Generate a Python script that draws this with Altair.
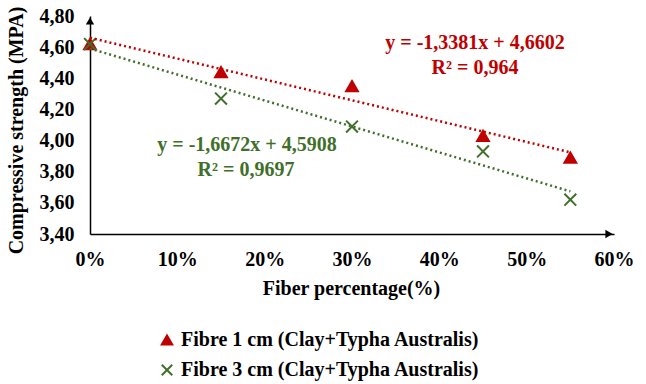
import altair as alt
import pandas as pd

# Fibre content (fraction) and measured compressive strength (MPa)
fiber_pct = [0.0, 0.15, 0.30, 0.45, 0.55]
strength_1cm = [4.62, 4.44, 4.35, 4.03, 3.89]
strength_3cm = [4.62, 4.27, 4.09, 3.93, 3.62]

series_names = ["Fibre 1 cm  (Clay+Typha Australis)", "Fibre 3 cm (Clay+Typha Australis)"]
series_colors = ["#C00000", "#3F6F2A"]
series_shapes = ["triangle-up", "M-1,-1L1,1M-1,1L1,-1"]

# Linear trend coefficients and fit quality
slopes = [-1.3381, -1.6672]
intercepts = [4.6602, 4.5908]
r_squared = ["0,964", "0,9697"]

x_ticks = [0, 0.1, 0.2, 0.3, 0.4, 0.5, 0.6]
y_ticks = [3.4, 3.6, 3.8, 4.0, 4.2, 4.4, 4.6, 4.8]

FONT = "Liberation Serif"
FS = 20

points = pd.DataFrame(
    {
        "fiber": fiber_pct * 2,
        "strength": strength_1cm + strength_3cm,
        "series": [series_names[0]] * 5 + [series_names[1]] * 5,
    }
)

trend_rows = []
for name, a, b in zip(series_names, slopes, intercepts):
    for x in (fiber_pct[0], fiber_pct[-1]):
        trend_rows.append({"fiber": x, "strength": a * x + b, "series": name})
trend = pd.DataFrame(trend_rows)


def comma(v, digits):
    return f"{v:.{digits}f}".replace(".", ",")


eq_text = [f"y = {comma(a, 4)}x + {comma(b, 4)}" for a, b in zip(slopes, intercepts)]

x_scale = alt.Scale(domain=[x_ticks[0], x_ticks[-1]], nice=False)
y_scale = alt.Scale(domain=[y_ticks[0], y_ticks[-1]], nice=False, zero=False)

x_axis = alt.Axis(
    values=x_ticks,
    labelExpr="format(datum.value, '.0%')",
    labelFlush=False,
    labelOverlap=False,
    title="Fiber percentage(%)",
    titleX=261,
    titleY=54,
    titleBaseline="middle",
    labelPadding=15,
)
y_axis = alt.Axis(
    values=y_ticks,
    labelExpr="replace(format(datum.value, '.2f'), '.', ',')",
    labelFlush=False,
    labelOverlap=False,
    title="Compressive strength (MPA)",
    titleX=-74,
    titleY=114,
    titleAngle=-90,
    titleAlign="center",
    titleBaseline="middle",
    labelPadding=16,
)


def X():
    return alt.X("fiber:Q", scale=x_scale, axis=x_axis)


def Y():
    return alt.Y("strength:Q", scale=y_scale, axis=y_axis)


legend = alt.Legend(
    title=None,
    orient="none",
    legendX=67,
    legendY=314,
    direction="vertical",
    labelFont=FONT,
    labelFontWeight="bold",
    labelFontSize=FS,
    labelColor="black",
    symbolSize=110,
    symbolStrokeWidth=2,
    rowPadding=10,
    labelOffset=4,
    labelLimit=400,
)

color_scale = alt.Scale(domain=series_names, range=series_colors)
shape_scale = alt.Scale(domain=series_names, range=series_shapes)

markers = (
    alt.Chart(points)
    .mark_point(filled=True, size=140, strokeWidth=2, opacity=1)
    .encode(
        x=X(),
        y=Y(),
        fill=alt.Fill("series:N", scale=color_scale, legend=legend),
        stroke=alt.Stroke("series:N", scale=color_scale, legend=legend),
        shape=alt.Shape("series:N", scale=shape_scale, legend=legend),
    )
)

trend_lines = (
    alt.Chart(trend)
    .mark_line(strokeDash=[2, 3], strokeWidth=2.5)
    .encode(
        x=X(),
        y=Y(),
        color=alt.Color("series:N", scale=color_scale, legend=None),
    )
)

# Arrowheads at the ends of both axes
y_arrow = (
    alt.Chart(pd.DataFrame({"fiber": [x_ticks[0]], "strength": [y_ticks[-1]]}))
    .mark_point(shape="triangle-up", filled=True, color="black", size=70, yOffset=5, opacity=1)
    .encode(x=X(), y=Y())
)
x_arrow = (
    alt.Chart(pd.DataFrame({"fiber": [x_ticks[-1]], "strength": [y_ticks[0]]}))
    .mark_point(shape="triangle-right", filled=True, color="black", size=70, xOffset=-5, opacity=1)
    .encode(x=X(), y=Y())
)


def label(text, color, px, py):
    return (
        alt.Chart(pd.DataFrame({"t": [text]}))
        .mark_text(font=FONT, fontWeight="bold", fontSize=FS, color=color, align="center", baseline="middle")
        .encode(text="t:N", x=alt.value(px), y=alt.value(py))
    )


annotations = [
    label(eq_text[0], series_colors[0], 385, 27),
    label(f"R² = {r_squared[0]}", series_colors[0], 385, 52),
    label(eq_text[1], series_colors[1], 157, 129),
    label(f"R² = {r_squared[1]}", series_colors[1], 156, 154),
]

chart = (
    alt.layer(markers, trend_lines, y_arrow, x_arrow, *annotations)
    .properties(
        width=524,
        height=218,
        autosize=alt.AutoSizeParams(type="none"),
        padding={"left": 90, "top": 16, "right": 32, "bottom": 150},
        background="white",
    )
    .configure_view(stroke=None)
    .configure_axis(
        grid=False,
        ticks=False,
        domainColor="black",
        domainWidth=1.5,
        labelFont=FONT,
        labelFontWeight="bold",
        labelFontSize=FS,
        labelColor="black",
        titleFont=FONT,
        titleFontWeight="bold",
        titleFontSize=FS,
        titleColor="black",
    )
)

chart.save("out.html", embed_options={"renderer": "svg", "actions": False})
